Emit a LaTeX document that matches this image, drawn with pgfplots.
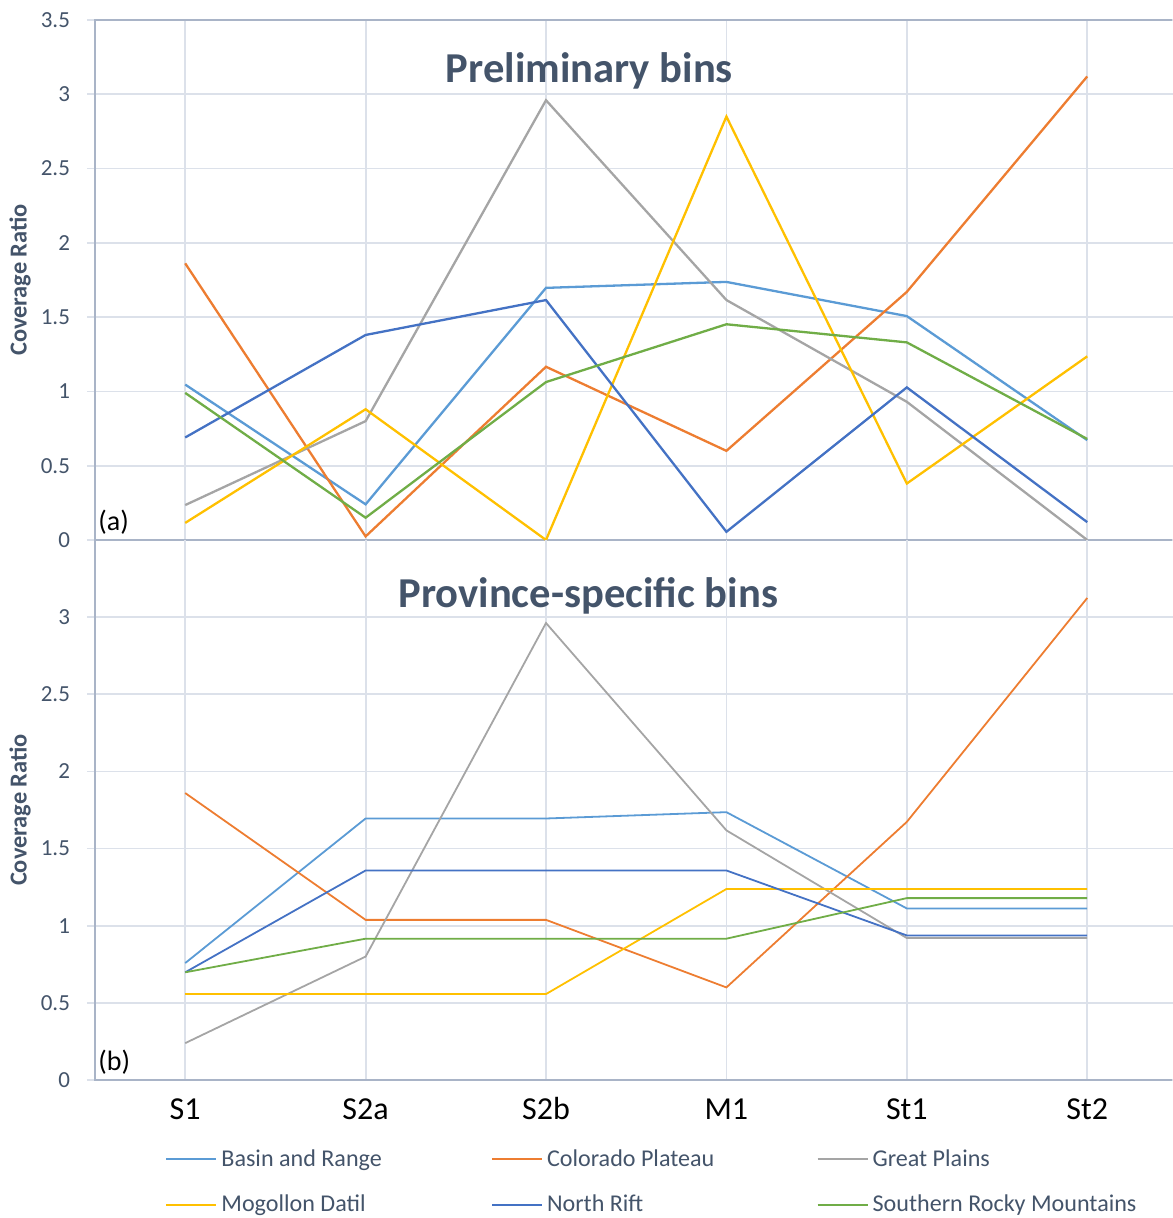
\documentclass[border=0pt]{standalone}
\usepackage{pgfplots}
\pgfplotsset{compat=1.18}
\usepackage{fontspec}
\setmainfont{Carlito}
\definecolor{cBR}{HTML}{5B9BD5}
\definecolor{cCP}{HTML}{ED7D31}
\definecolor{cGP}{HTML}{A5A5A5}
\definecolor{cMD}{HTML}{FFC000}
\definecolor{cNR}{HTML}{4472C4}
\definecolor{cSR}{HTML}{70AD47}
\definecolor{axc}{HTML}{A9B4C7}
\definecolor{gridc}{HTML}{DCE1EA}
\definecolor{txt}{HTML}{44546A}
\pgfplotsset{
  panel/.style={
    scale only axis, width=538.5pt,
    xmin=-0.5, xmax=5.47, ymin=0, ymax=3.5,
    xtick={0,1,2,3,4,5},
    grid=major, major grid style={gridc, line width=0.9pt},
    axis line style={draw=none},
    xtick style={draw=none},
    ytick style={draw=gridc, line width=0.9pt},
    tick align=outside, major tick length=4pt,
    yticklabel style={font=\fontsize{11.5}{13}\selectfont, text=txt, xshift=-5pt},
    /pgf/number format/assume math mode=true,
    ylabel={Coverage Ratio},
    every axis y label/.style={at={(rel axis cs:0,0.5)}, anchor=center, xshift=-37.5pt, rotate=90, font=\bfseries\fontsize{12.2}{14}\selectfont, text=txt},
    every axis title/.style={anchor=center, font=\bfseries\fontsize{21.3}{25}\selectfont, text=txt},
    clip=false,
  },
}
\begin{document}
\begin{tikzpicture}
\useasboundingbox (-47.5pt,10pt) rectangle (538.5pt,-599pt);
% ---------- top panel ----------
\begin{axis}[panel, at={(0pt,0pt)}, anchor=north west, height=260pt,
  ytick={0,0.5,1,1.5,2,2.5,3,3.5},
  xticklabels={},
  title={Preliminary bins}, title style={at={(rel axis cs:0.459,0.902)}}]
\draw[axc, line width=1.3pt] (rel axis cs:1,1) -- (rel axis cs:0,1) -- (rel axis cs:0,0) -- (rel axis cs:1,0);
\addplot[cBR, line width=1.15pt] coordinates {(0,1.046) (1,0.24) (2,1.697) (3,1.737) (4,1.507) (5,0.672)};
\addplot[cCP, line width=1.15pt] coordinates {(0,1.862) (1,0.024) (2,1.166) (3,0.60) (4,1.67) (5,3.12)};
\addplot[cGP, line width=1.15pt] coordinates {(0,0.235) (1,0.80) (2,2.96) (3,1.615) (4,0.93) (5,0.0)};
\addplot[cMD, line width=1.15pt] coordinates {(0,0.115) (1,0.88) (2,0.0) (3,2.85) (4,0.38) (5,1.236)};
\addplot[cNR, line width=1.15pt] coordinates {(0,0.69) (1,1.38) (2,1.615) (3,0.055) (4,1.027) (5,0.12)};
\addplot[cSR, line width=1.15pt] coordinates {(0,0.99) (1,0.15) (2,1.063) (3,1.452) (4,1.33) (5,0.68)};
\node[anchor=west, font=\fontsize{14}{16}\selectfont, inner sep=0pt] at (rel axis cs:0,0) [xshift=1.5pt, yshift=9pt] {(a)};
\end{axis}
% ---------- bottom panel ----------
\begin{axis}[panel, at={(0pt,-260pt)}, anchor=north west, height=270pt,
  ytick={0,0.5,1,1.5,2,2.5,3},
  xticklabels={S1,S2a,S2b,M1,St1,St2},
  xticklabel style={font=\fontsize{16}{18}\selectfont, text=black, anchor=base, yshift=-15.5pt},
  title={Province-specific bins}, title style={at={(rel axis cs:0.458,0.896)}},
  legend columns=3,
  legend style={at={(rel axis cs:0.065,0)}, anchor=north west, yshift=-32.5pt, draw=none, fill=none, inner sep=0pt,
    font=\fontsize{12.05}{14}\selectfont, text=txt, row sep=9pt},
  legend cell align=left,
  legend image code/.code={\draw[#1, line width=1pt] (0pt,0pt) -- (25pt,0pt);},
  ]
\draw[axc, line width=1.3pt] (rel axis cs:0,1) -- (rel axis cs:0,0) -- (rel axis cs:1,0);
\addplot[cBR, line width=0.9pt] coordinates {(0,0.758) (1,1.695) (2,1.695) (3,1.736) (4,1.112) (5,1.112)};
\addlegendentry{\makebox[132.8pt][l]{Basin and Range}}
\addplot[cCP, line width=0.9pt] coordinates {(0,1.86) (1,1.038) (2,1.038) (3,0.60) (4,1.673) (5,3.124)};
\addlegendentry{\makebox[132.8pt][l]{Colorado Plateau}}
\addplot[cGP, line width=0.9pt] coordinates {(0,0.239) (1,0.80) (2,2.962) (3,1.618) (4,0.92) (5,0.92)};
\addlegendentry{\makebox[132.8pt][l]{Great Plains}}
\addplot[cMD, line width=0.9pt] coordinates {(0,0.557) (1,0.557) (2,0.557) (3,1.238) (4,1.238) (5,1.238)};
\addlegendentry{\makebox[132.8pt][l]{Mogollon Datil}}
\addplot[cNR, line width=0.9pt] coordinates {(0,0.698) (1,1.358) (2,1.358) (3,1.358) (4,0.937) (5,0.937)};
\addlegendentry{\makebox[132.8pt][l]{North Rift}}
\addplot[cSR, line width=0.9pt] coordinates {(0,0.698) (1,0.916) (2,0.916) (3,0.916) (4,1.179) (5,1.179)};
\addlegendentry{\makebox[132.8pt][l]{Southern Rocky Mountains}}
\node[anchor=west, font=\fontsize{14}{16}\selectfont, inner sep=0pt] at (rel axis cs:0,0) [xshift=1.5pt, yshift=9pt] {(b)};
\end{axis}
\end{tikzpicture}
\end{document}
